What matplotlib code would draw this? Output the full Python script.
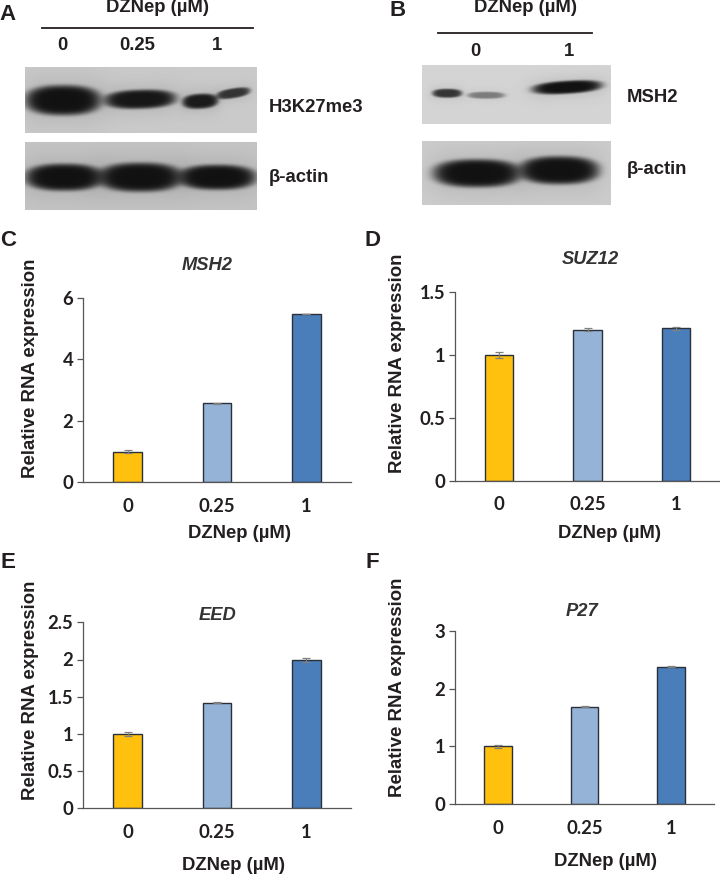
import matplotlib
matplotlib.use('Agg')
import matplotlib.pyplot as plt
import numpy as np

W, H = 720, 876
TXT = '#231f20'
LABEL_FONT = 'Liberation Sans'
TICK_FONT = 'Lato'

doses = ['0', '0.25', '1']
bar_colors = ['#FFC00E', '#95B3D7', '#4A7EBB']

msh2_vals = [1.0, 2.57, 5.47]
msh2_err = [0.05, 0.01, 0.01]
suz12_vals = [1.0, 1.2, 1.21]
suz12_err = [0.025, 0.012, 0.012]
eed_vals = [1.0, 1.42, 1.99]
eed_err = [0.03, 0.01, 0.03]
p27_vals = [1.0, 1.69, 2.38]
p27_err = [0.03, 0.015, 0.01]

msh2_ticks = [0, 2, 4, 6]
suz12_ticks = [0, 0.5, 1, 1.5]
eed_ticks = [0, 0.5, 1, 1.5, 2, 2.5]
p27_ticks = [0, 1, 2, 3]

# blot bands: cx, cy, half width, half height, strength, tilt
blot_a_top = [(63, 100, 38, 15, 1.0, 0), (140, 99, 36, 9.5, 0.97, -0.03),
              (200, 101, 18, 7.5, 0.95, -0.05), (233, 93, 17, 5, 0.8, -0.15)]
blot_a_bot = [(64, 177, 39, 13.5, 1.0, 0), (140, 177, 42, 14.5, 1.0, 0),
              (217, 177, 39, 12.5, 1.0, 0)]
blot_b_top = [(447, 93, 15, 4.5, 0.8, 0), (486, 95, 19, 3.5, 0.42, 0),
              (567, 87, 35, 6.5, 1.0, -0.06)]
blot_b_bot = [(477, 173, 44, 14, 1.0, 0), (559, 170, 40, 14, 1.0, 0)]


def blot_img(box, bands, bg=0.80):
    x0, x1, y0, y1 = box
    xx, yy = np.meshgrid(np.arange(x0, x1, 0.5), np.arange(y0, y1, 0.5))
    keep = np.ones_like(xx)
    for cx, cy, rx, ry, amp, tilt in bands:
        cy_x = cy + tilt * (xx - cx)
        d = (np.abs(xx - cx) / rx) ** 2.4 + (np.abs(yy - cy_x) / ry) ** 2.4
        core = amp * np.exp(-d ** 3)
        halo = 0.12 * amp * np.exp(-((np.abs(xx - cx) / (rx * 1.1)) ** 4 + (np.abs(yy - cy_x) / (ry * 1.6)) ** 2))
        keep = keep * (1 - core) * (1 - halo)
    return 0.07 + (bg - 0.07) * keep


def draw_blot(bg_ax, box, bands, bg=0.80):
    x0, x1, y0, y1 = box
    bg_ax.imshow(blot_img(box, bands, bg), cmap='gray', vmin=0, vmax=1, extent=[x0, x1, y1, y0],
                 aspect='auto', interpolation='bilinear')


def label(bg_ax, x, y, s, size=13.3, ha='center', rotation=0, style='normal', font=LABEL_FONT, color=TXT):
    bg_ax.text(x, y, s, fontsize=size, ha=ha, va='center', rotation=rotation, fontweight='bold',
               fontstyle=style, family=font, color=color)


def bar_panel(box, vals, errs, yticks, xlab_pos, ylab_pos, title, title_pos, letter, letter_pos):
    x0, x1, y_top, y_zero = box
    ax = fig.add_axes([x0 / W, 1 - y_zero / H, (x1 - x0) / W, (y_zero - y_top) / H])
    ax.patch.set_alpha(0)
    pos = np.arange(len(vals))
    ax.bar(pos, vals, width=0.32, color=bar_colors, edgecolor='#2a2f3a', linewidth=1.0, zorder=2)
    ax.errorbar(pos, vals, yerr=errs, fmt='none', ecolor='#808080', elinewidth=0.9, capsize=3,
                capthick=0.9, zorder=3)
    ax.set_xlim(-0.5, 2.5)
    ax.set_ylim(0, yticks[-1])
    ax.set_xticks(pos)
    ax.set_xticklabels(doses)
    ax.set_yticks(yticks)
    ax.set_yticklabels(['%g' % t for t in yticks])
    ax.tick_params(axis='x', length=0, pad=11)
    ax.tick_params(axis='y', length=4, width=0.9, color='#555555', pad=3)
    for t in ax.get_xticklabels() + ax.get_yticklabels():
        t.set_fontsize(13.3)
        t.set_fontweight('bold')
        t.set_family(TICK_FONT)
        t.set_color(TXT)
    ax.spines['top'].set_visible(False)
    ax.spines['right'].set_visible(False)
    ax.spines['left'].set_color('#555555')
    ax.spines['bottom'].set_color('#555555')
    ax.spines['left'].set_linewidth(0.9)
    ax.spines['bottom'].set_linewidth(0.9)
    label(bg, xlab_pos[0], xlab_pos[1], 'DZNep (µM)')
    label(bg, ylab_pos[0], ylab_pos[1], 'Relative RNA expression', rotation=90, size=13.4)
    label(bg, title_pos[0], title_pos[1], title, size=13.2, style='italic', color='#333333')
    label(bg, letter_pos[0], letter_pos[1], letter, size=16)


fig = plt.figure(figsize=(W / 100, H / 100), dpi=100)
bg = fig.add_axes([0, 0, 1, 1])
bg.set_axis_off()

draw_blot(bg, (25, 257, 67, 133), blot_a_top, 0.79)
draw_blot(bg, (25, 257, 142, 210), blot_a_bot, 0.77)
draw_blot(bg, (422, 611, 65, 124), blot_b_top, 0.83)
draw_blot(bg, (422, 611, 141, 205), blot_b_bot, 0.80)
bg.set_xlim(0, W)
bg.set_ylim(H, 0)

# panel A
label(bg, 8, 15, 'A', size=16)
label(bg, 157, 8, 'DZNep (µM)')
bg.plot([42, 253], [28, 28], color='#231f20', lw=1.3)
label(bg, 62, 45, '0')
label(bg, 137.5, 45, '0.25')
label(bg, 217, 45, '1')
label(bg, 269, 107, 'H3K27me3', ha='left')
label(bg, 269, 177, 'β-actin', ha='left')

# panel B
label(bg, 398, 10, 'B', size=16)
label(bg, 525, 8, 'DZNep (µM)')
bg.plot([438, 592], [33, 33], color='#231f20', lw=1.3)
label(bg, 475, 51, '0')
label(bg, 569, 51, '1')
label(bg, 627, 98, 'MSH2', ha='left')
label(bg, 627, 169, 'β-actin', ha='left')

bar_panel((83, 351, 297.7, 482.3), msh2_vals, msh2_err, msh2_ticks, (239, 533), (31, 368),
          'MSH2', (207, 265), 'C', (8, 240))
bar_panel((455, 720, 292, 480.7), suz12_vals, suz12_err, suz12_ticks, (610, 533), (397, 363),
          'SUZ12', (590, 259), 'D', (373, 240))
bar_panel((83, 351, 622.3, 808.3), eed_vals, eed_err, eed_ticks, (234, 865), (31, 690),
          'EED', (218, 616), 'E', (8, 562))
bar_panel((455, 714, 630.7, 804.3), p27_vals, p27_err, p27_ticks, (605, 862), (397, 687),
          'P27', (582, 612), 'F', (372, 562))

fig.savefig('out.png', dpi=100)
